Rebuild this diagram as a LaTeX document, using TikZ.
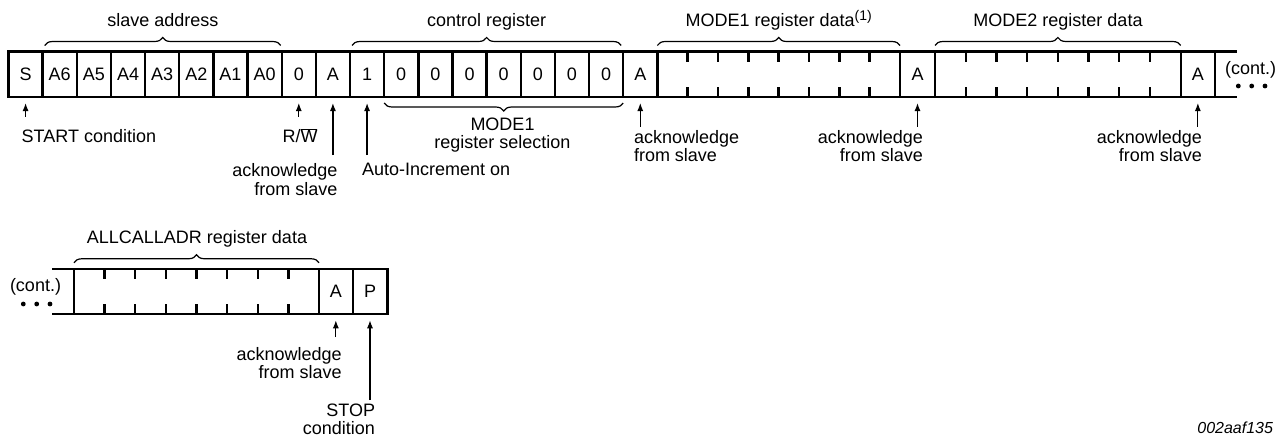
\documentclass[tikz,border=0pt]{standalone}
\usepackage{fontspec}
\setmainfont{Liberation Sans}
\usetikzlibrary{arrows.meta,decorations.pathreplacing,calc}
\begin{document}
\begin{tikzpicture}[x=1pt,y=-1pt]
\tikzstyle{every node}+=[inner sep=0pt,outer sep=0pt,font=\fontsize{18}{18.5}\selectfont]
\tikzstyle{cell}=[draw,line width=2.4pt,minimum height=45.5pt,minimum width=34.15pt]
\tikzstyle{frame}=[line width=2.4pt]
\tikzstyle{brace}=[decorate,decoration={brace,amplitude=8pt,raise=6pt},line width=1.2pt]
\tikzstyle{ptr}=[-{Latex[length=8pt,width=6pt]},line width=1.2pt,shorten >=6pt]
\useasboundingbox (0,0) rectangle (1285,437);
\node [cell] (c0) at (25.58,74.25) {S};
\node [cell] (c1) at (59.73,74.25) {A6};
\node [cell] (c2) at (93.88,74.25) {A5};
\node [cell] (c3) at (128.03,74.25) {A4};
\node [cell] (c4) at (162.18,74.25) {A3};
\node [cell] (c5) at (196.33,74.25) {A2};
\node [cell] (c6) at (230.48,74.25) {A1};
\node [cell] (c7) at (264.63,74.25) {A0};
\node [cell] (c8) at (298.78,74.25) {0};
\node [cell] (c9) at (332.93,74.25) {A};
\node [cell] (c10) at (367.08,74.25) {1};
\node [cell] (c11) at (401.23,74.25) {0};
\node [cell] (c12) at (435.38,74.25) {0};
\node [cell] (c13) at (469.53,74.25) {0};
\node [cell] (c14) at (503.68,74.25) {0};
\node [cell] (c15) at (537.83,74.25) {0};
\node [cell] (c16) at (571.98,74.25) {0};
\node [cell] (c17) at (606.13,74.25) {0};
\node [cell] (c18) at (640.28,74.25) {A};
\node [cell,minimum width=242.65pt] (d1) at (778.68,74.25) {};
\node [cell,minimum width=35pt] (c19) at (917.5,74.25) {A};
\node [cell,minimum width=245.7pt] (d2) at (1057.85,74.25) {};
\node [cell,minimum width=34.3pt] (c20) at (1197.85,74.25) {A};
\draw [frame] (c20.north east) -- ++(22,0);
\draw [frame] (c20.south east) -- ++(22,0);
\node [anchor=base west] (cont1) at (1225,74) {(cont.)};
\fill (1238.3,86) circle (2.4) (1251.7,86) circle (2.4) (1265,86) circle (2.4);
\node [cell,minimum width=245pt] (d3) at (196.5,291.5) {};
\node [cell,minimum width=33.7pt] (c21) at (335.85,291.5) {A};
\node [cell,minimum width=34.6pt] (c22) at (370,291.5) {P};
\draw [frame] (d3.north west) -- ++(-22.3,0);
\draw [frame] (d3.south west) -- ++(-22.3,0);
\node [anchor=base west] (cont2) at (10,291) {(cont.)};
\fill (23.3,304) circle (2.4) (36.7,304) circle (2.4) (50,304) circle (2.4);
\foreach \b in {d1,d2,d3}
  \foreach \k in {1,...,7} {
    \draw [frame] ($(\b.north west)!\k/8!(\b.north east)$) -- ++(0,10);
    \draw [frame] ($(\b.south west)!\k/8!(\b.south east)$) -- ++(0,-10);
  }
\draw [brace] ([xshift=2pt]c1.north west) -- ([xshift=-1pt]c7.north east);
\draw [brace] ([xshift=2pt]c10.north west) -- ([xshift=-2pt]c17.north east);
\draw [brace] (d1.north west) -- (d1.north east);
\draw [brace] (d2.north west) -- (d2.north east);
\draw [brace] (d3.north west) -- (d3.north east);
\draw [brace] (c17.south east) -- (c11.south west);
\node [anchor=base] (lsa) at (163,26.7) {slave address};
\node [anchor=base] (lctl) at (486.7,26.7) {control register};
\node [anchor=base] (lm1) at (778.7,26.7) {MODE1 register data\raisebox{6pt}{\fontsize{14}{14}\selectfont(1)}};
\node [anchor=base] (lm2) at (1058,26.7) {MODE2 register data};
\node [anchor=base] (lall) at (197,243.3) {ALLCALLADR register data};
\node [anchor=north,align=center] (lsel) at (502.5,117.7) {MODE1\\register selection};
\node [anchor=base west] (lstart) at (21.7,142.7) {START condition};
\node [anchor=base] (lrw) at (300,142.7) {R/$\overline{\mbox{W}}$};
\node [anchor=north east,align=right] (lack1) at (337.5,163.5) {acknowledge\\from slave};
\node [anchor=base west] (lauto) at (362,175.5) {Auto-Increment on};
\node [anchor=north west,align=left] (lack2) at (634,130.3) {acknowledge\\from slave};
\node [anchor=north east,align=right] (lack3) at (923,130.3) {acknowledge\\from slave};
\node [anchor=north east,align=right] (lack4) at (1202,130.3) {acknowledge\\from slave};
\node [anchor=north east,align=right] (lack5) at (341.7,347) {acknowledge\\from slave};
\node [anchor=north east,align=right] (lstop) at (375,403.7) {STOP\\condition};
\node [anchor=base east,font=\fontsize{16}{18}\selectfont\itshape] (lid) at (1273,433.3) {002aaf135};
\coordinate (t0) at (25.58,116.7);
\coordinate (t8) at (298.78,116.7);
\coordinate (t9) at (332.93,155);
\coordinate (t10) at (367.08,155);
\coordinate (t18) at (640.28,126.7);
\coordinate (t19) at (917.5,126.7);
\coordinate (t20) at (1197.85,126.7);
\coordinate (t21) at (335.85,337);
\coordinate (t22) at (370,400);
\draw [ptr] (t0) -- (c0);
\draw [ptr] (t8) -- (c8);
\draw [ptr] (t9) -- (c9);
\draw [ptr] (t10) -- (c10);
\draw [ptr] (t18) -- (c18);
\draw [ptr] (t19) -- (c19);
\draw [ptr] (t20) -- (c20);
\draw [ptr] (t21) -- (c21);
\draw [ptr] (t22) -- (c22);
\end{tikzpicture}
\end{document}
